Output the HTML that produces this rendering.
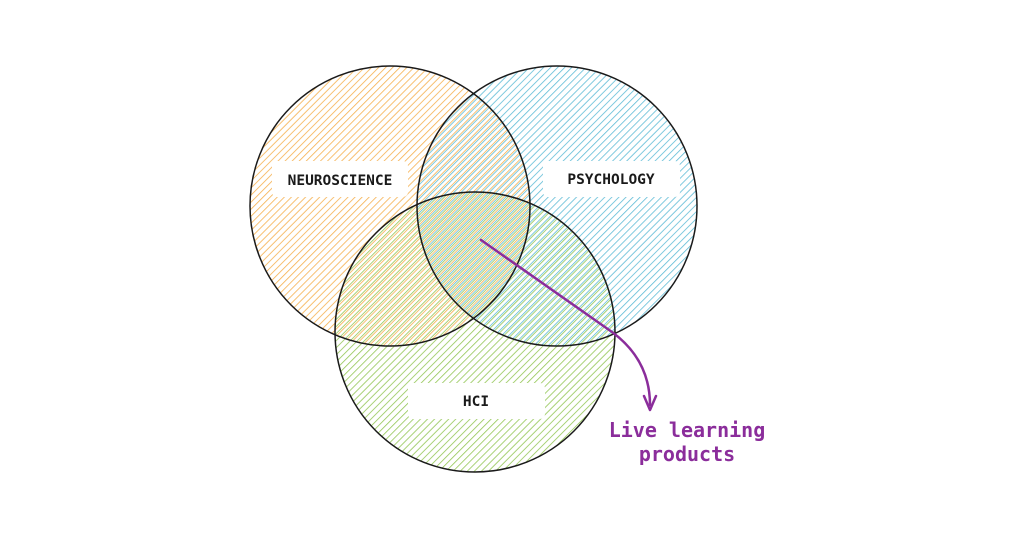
<!DOCTYPE html>
<html><head><style>
html,body{margin:0;padding:0;background:#fff;}
svg{display:block;}
</style></head><body>
<svg width="1023" height="543" viewBox="0 0 1023 543" xmlns="http://www.w3.org/2000/svg">
<defs>
<pattern id="po" width="5" height="5" patternUnits="userSpaceOnUse" patternTransform="rotate(45)">
<line x1="0" y1="0" x2="0" y2="5" stroke="#f5b04e" stroke-width="1.6"/></pattern>
<pattern id="pb" width="5" height="5" patternUnits="userSpaceOnUse" patternTransform="rotate(45) translate(1.6,0)">
<line x1="0" y1="0" x2="0" y2="5" stroke="#5fbcd6" stroke-width="1.6"/></pattern>
<pattern id="pg" width="5" height="5" patternUnits="userSpaceOnUse" patternTransform="rotate(45) translate(3.2,0)">
<line x1="0" y1="0" x2="0" y2="5" stroke="#93c655" stroke-width="1.6"/></pattern>
</defs>
<circle cx="390" cy="206" r="140" fill="url(#po)"/>
<circle cx="557" cy="206" r="140" fill="url(#pb)"/>
<circle cx="475" cy="332" r="140" fill="url(#pg)"/>
<circle cx="390" cy="206" r="140" fill="none" stroke="#1a1a1a" stroke-width="1.5"/>
<circle cx="557" cy="206" r="140" fill="none" stroke="#1a1a1a" stroke-width="1.5"/>
<circle cx="475" cy="332" r="140" fill="none" stroke="#1a1a1a" stroke-width="1.5"/>
<rect x="272" y="161" width="136" height="36" rx="5" fill="#fff"/>
<rect x="543" y="161" width="137" height="36" rx="5" fill="#fff"/>
<rect x="408" y="383" width="137" height="36" rx="5" fill="#fff"/>
<g font-family="DejaVu Sans Mono, Liberation Mono, monospace" font-size="14.5" font-weight="bold" fill="#1a1a1a" text-anchor="middle">
<text x="340" y="185">NEUROSCIENCE</text>
<text x="611" y="184">PSYCHOLOGY</text>
<text x="476" y="406">HCI</text>
</g>
<path d="M481 240 L612 332 Q650 360 650 405" fill="none" stroke="#8b2d9b" stroke-width="2.5" stroke-linecap="round"/>
<path d="M644 396 L650 410 L656 396" fill="none" stroke="#8b2d9b" stroke-width="2.5" stroke-linecap="round" stroke-linejoin="round"/>
<g font-family="DejaVu Sans Mono, Liberation Mono, monospace" font-size="20" font-weight="bold" fill="#8b2d9b" text-anchor="middle">
<text x="687" y="437">Live learning</text>
<text x="687" y="461">products</text>
</g>
</svg>
</body></html>
